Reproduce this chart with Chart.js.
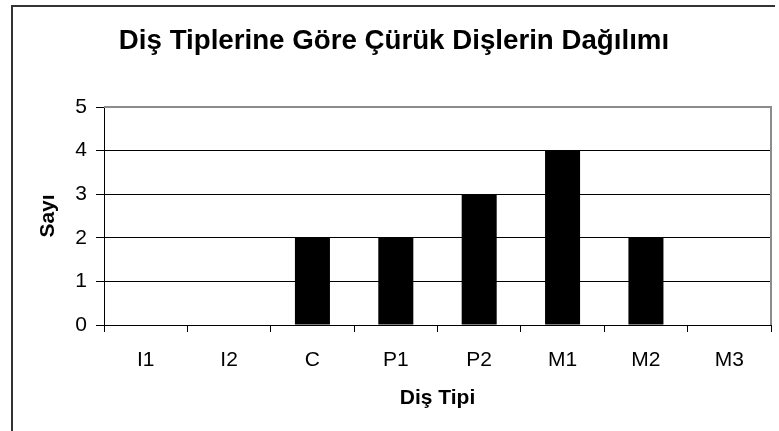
<!DOCTYPE html>
<html>
<head>
<meta charset="utf-8">
<script src="https://cdn.jsdelivr.net/npm/chart.js@4/dist/chart.umd.min.js"></script>
<style>
  html, body { margin: 0; padding: 0; background: #fff; }
  #wrap { width: 779px; height: 431px; position: relative; }
</style>
</head>
<body>
<div id="wrap"><canvas id="c" width="779" height="431"></canvas></div>
<script>
const chartTitle = "Diş Tiplerine Göre Çürük Dişlerin Dağılımı";
const xAxisTitle = "Diş Tipi";
const yAxisTitle = "Sayı";
const categories = ["I1", "I2", "C", "P1", "P2", "M1", "M2", "M3"];
const counts = [0, 0, 2, 2, 3, 4, 2, 0];
const yTicks = [0, 1, 2, 3, 4, 5];

const FONT = "'Liberation Sans', Arial, Helvetica, sans-serif";

const framePlugin = {
  id: 'frame',
  afterDraw(chart) {
    const ctx = chart.ctx;
    const a = chart.chartArea;
    ctx.save();
    // plot area border (top and right), gray
    ctx.strokeStyle = '#8c8c8c';
    ctx.lineWidth = 2;
    ctx.beginPath();
    ctx.moveTo(a.left, a.top);
    ctx.lineTo(a.right, a.top);
    ctx.lineTo(a.right, a.bottom);
    ctx.stroke();
    // outer chart frame (left and top visible)
    ctx.strokeStyle = '#333333';
    ctx.lineWidth = 2;
    ctx.beginPath();
    ctx.moveTo(12, 431);
    ctx.lineTo(12, 6);
    ctx.lineTo(775, 6);
    ctx.stroke();
    ctx.restore();
  }
};

new Chart(document.getElementById('c'), {
  type: 'bar',
  data: {
    labels: categories,
    datasets: [{
      data: counts,
      backgroundColor: '#000000',
      borderColor: '#000000',
      borderWidth: 0,
      barPercentage: 0.42,
      categoryPercentage: 1.0
    }]
  },
  options: {
    responsive: false,
    animation: false,
    devicePixelRatio: 1,
    layout: { padding: { left: 17, right: 8, top: 0, bottom: 0 } },
    plugins: {
      legend: { display: false },
      tooltip: { enabled: false },
      title: {
        display: true,
        text: chartTitle,
        color: '#000',
        font: { family: FONT, size: 27.7, weight: 'bold', lineHeight: 1.2 },
        padding: { top: 25, bottom: 48.8 }
      }
    },
    scales: {
      x: {
        grid: {
          display: true,
          drawOnChartArea: false,
          drawTicks: true,
          tickLength: 7,
          color: '#000',
          offset: true
        },
        border: { display: true, color: '#000', width: 1 },
        ticks: {
          color: '#000',
          font: { family: FONT, size: 21, lineHeight: 1.2 },
          padding: 16,
          maxRotation: 0,
          autoSkip: false
        },
        title: {
          display: true,
          text: xAxisTitle,
          color: '#000',
          font: { family: FONT, size: 21, weight: 'bold', lineHeight: 1.2 },
          padding: { top: 0, bottom: 20 }
        },
        afterFit(scale) { scale.height = 106; }
      },
      y: {
        min: 0,
        max: 5,
        afterBuildTicks(scale) { scale.ticks = yTicks.map(v => ({ value: v })); },
        grid: {
          color: '#000',
          lineWidth: 1,
          drawTicks: true,
          tickLength: 8
        },
        border: { display: true, color: '#000', width: 1 },
        ticks: {
          color: '#000',
          font: { family: FONT, size: 21, lineHeight: 1.2 },
          padding: 9
        },
        title: {
          display: true,
          text: yAxisTitle,
          color: '#000',
          font: { family: FONT, size: 21, weight: 'bold', lineHeight: 1.2 },
          padding: { top: 19, bottom: 0 }
        },
        afterFit(scale) { scale.width = 87; }
      }
    }
  },
  plugins: [framePlugin]
});
</script>
</body>
</html>
